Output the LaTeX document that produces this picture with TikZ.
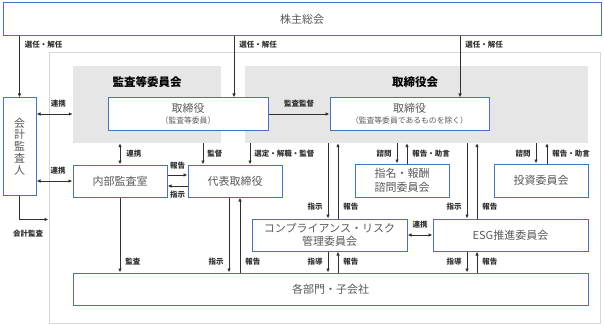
\documentclass[tikz,border=0pt]{standalone}
\usepackage{fontspec}
\setmainfont{Noto Sans CJK JP}
\usepackage{tikz}
\usetikzlibrary{arrows.meta,positioning}
\definecolor{Edge}{HTML}{4472C4}
\definecolor{Panel}{HTML}{E7E6E6}
\definecolor{Frame}{HTML}{D6D6D6}
\definecolor{Ink}{HTML}{595959}
\definecolor{Dark}{HTML}{303030}

\begin{document}
\begin{tikzpicture}[x=1pt,y=-1pt,
  box/.style={draw=Edge,fill=white,line width=1pt,inner sep=0pt,align=center,text=Ink,font=\fontsize{11}{13.5}\selectfont},
  panel/.style={fill=Panel,inner sep=0pt},
  outer/.style={draw=Frame,fill=white,line width=1pt,inner sep=0pt},
  title/.style={font=\fontsize{11.5}{13}\selectfont\bfseries,text=black},
  lbl/.style={font=\fontsize{7.5}{8}\selectfont\bfseries,text=Dark,inner sep=1pt},
  arrow/.style={-{Latex[length=4pt,width=3.5pt]},line width=0.9pt,draw=Dark},
  arrow2/.style={{Latex[length=4pt,width=3.5pt]}-{Latex[length=4pt,width=3.5pt]},line width=0.9pt,draw=Dark}
]
\useasboundingbox (0,0) rectangle (604,326);
\node[outer,minimum width=551pt,minimum height=270pt] (frame) at (324.5,188) {};
\node[panel,minimum width=148pt,minimum height=77pt] (audit) at (147,104.5) {};
\node[panel,minimum width=343pt,minimum height=77pt] (board) at (416.5,104.5) {};
\node[title] (auditT) at (147,82) {監査等委員会};
\node[title] (boardT) at (415,82) {取締役会};
\node[box,minimum width=598pt,minimum height=33pt] (agm) at (302,19.5) {株主総会};
\node[box,minimum width=33pt,minimum height=97pt,font=\fontsize{11}{11.8}\selectfont] (kaikei) at (19.5,146.5) {会\\計\\監\\査\\人};
\node[box,minimum width=160pt,minimum height=32pt] (dirA) at (188,114) {取締役\\[-3pt]{\fontsize{7.8}{9}\selectfont （監査等委員）}};
\node[box,minimum width=159pt,minimum height=32pt] (dirB) at (409.5,114) {取締役\\[-3pt]{\fontsize{7.8}{9}\selectfont （監査等委員であるものを除く）}};
\node[box,minimum width=94pt,minimum height=32pt] (naibu) at (120,181) {内部監査室};
\node[box,minimum width=94pt,minimum height=32pt] (daihyo) at (235,181) {代表取締役};
\node[box,minimum width=94pt,minimum height=33pt] (shimei) at (402,180.5) {指名・報酬\\諮問委員会};
\node[box,minimum width=94pt,minimum height=33pt] (toushi) at (541,180.5) {投資委員会};
\node[box,minimum width=155pt,minimum height=32pt] (comp) at (329.5,235) {コンプライアンス・リスク\\管理委員会};
\node[box,minimum width=155pt,minimum height=32pt] (esg) at (510.5,235) {ESG推進委員会};
\node[box,minimum width=515pt,minimum height=32pt] (bumon) at (330.5,289) {各部門・子会社};

% 株主総会から
\draw[arrow] (agm.south -| kaikei) -- (kaikei.north) node[lbl,pos=0.13,right=4pt] {選任・解任};
\draw[arrow] ([xshift=46pt]dirA.north |- agm.south) -- ([xshift=46pt]dirA.north) node[lbl,pos=0.13,right=4pt] {選任・解任};
\draw[arrow] ([xshift=50.5pt]dirB.north |- agm.south) -- ([xshift=50.5pt]dirB.north) node[lbl,pos=0.13,right=4pt] {選任・解任};

% 会計監査人
\draw[arrow2] (kaikei.east |- dirA) -- (audit.west |- dirA) node[lbl,pos=0.6,above=5pt] {連携};
\draw[arrow2] (kaikei.east |- naibu) -- (naibu.west) node[lbl,pos=0.6,above=5pt] {連携};
\draw[arrow] (kaikei.south) |- ([yshift=-24pt]kaikei.south -| frame.west) node[lbl,pos=0.65,below=9pt] {会計監査};

% 監査等委員会・取締役会
\draw[arrow2] (audit.south -| naibu) -- (naibu.north) node[lbl,midway,right=5pt] {連携};
\draw[arrow] ([xshift=-32pt]daihyo.north |- audit.south) -- ([xshift=-32pt]daihyo.north) node[lbl,midway,right=3pt] {監督};
\draw[arrow] ([xshift=15pt]daihyo.north |- board.south) -- ([xshift=15pt]daihyo.north) node[lbl,midway,right=3pt] {選定・解職・監督};
\draw[arrow] (dirA.east) -- (dirB.west) node[lbl,midway,above=5pt] {監査監督};

% 内部監査室・代表取締役
\draw[arrow] ([yshift=6pt]naibu.east) -- ([yshift=6pt]naibu.east -| daihyo.west) node[lbl,midway,above=4pt] {報告};
\draw[arrow] ([yshift=-5pt]daihyo.west) -- ([yshift=-5pt]daihyo.west -| naibu.east) node[lbl,midway,below=4pt] {指示};
\draw[arrow] (naibu.south) -- (naibu.south |- bumon.north) node[lbl,pos=0.86,right=4pt] {監査};
\draw[arrow] ([xshift=-6pt]daihyo.south) -- ([xshift=-6pt]daihyo.south |- bumon.north) node[lbl,pos=0.86,left=4pt] {指示};
\draw[arrow] ([xshift=5pt]daihyo.south |- bumon.north) -- ([xshift=5pt]daihyo.south) node[lbl,pos=0.14,right=4pt] {報告};

% 委員会
\draw[arrow] ([xshift=-1.5pt]comp.north |- board.south) -- ([xshift=-1.5pt]comp.north) node[lbl,pos=0.84,left=4pt] {指示};
\draw[arrow] ([xshift=8.5pt]comp.north) -- ([xshift=8.5pt]comp.north |- board.south) node[lbl,pos=0.16,right=4pt] {報告};
\draw[arrow] ([xshift=-1.5pt]comp.south) -- ([xshift=-1.5pt]comp.south |- bumon.north) node[lbl,midway,left=4pt] {指導};
\draw[arrow] ([xshift=8.5pt]comp.south |- bumon.north) -- ([xshift=8.5pt]comp.south) node[lbl,midway,right=4pt] {報告};
\draw[arrow] ([xshift=-5pt]shimei.north |- board.south) -- ([xshift=-5pt]shimei.north) node[lbl,midway,left=4pt] {諮問};
\draw[arrow] ([xshift=5pt]shimei.north) -- ([xshift=5pt]shimei.north |- board.south) node[lbl,midway,right=4pt] {報告・助言};
\draw[arrow] ([xshift=-43.5pt]esg.north |- board.south) -- ([xshift=-43.5pt]esg.north) node[lbl,pos=0.84,left=4pt] {指示};
\draw[arrow] ([xshift=-33.5pt]esg.north) -- ([xshift=-33.5pt]esg.north |- board.south) node[lbl,pos=0.16,right=4pt] {報告};
\draw[arrow] ([xshift=-43.5pt]esg.south) -- ([xshift=-43.5pt]esg.south |- bumon.north) node[lbl,midway,left=4pt] {指導};
\draw[arrow] ([xshift=-33.5pt]esg.south |- bumon.north) -- ([xshift=-33.5pt]esg.south) node[lbl,midway,right=4pt] {報告};
\draw[arrow] ([xshift=-5pt]toushi.north |- board.south) -- ([xshift=-5pt]toushi.north) node[lbl,midway,left=4pt] {諮問};
\draw[arrow] ([xshift=6pt]toushi.north) -- ([xshift=6pt]toushi.north |- board.south) node[lbl,midway,right=4pt] {報告・助言};
\draw[arrow2] (comp.east) -- (esg.west) node[lbl,midway,above=5pt] {連携};
\end{tikzpicture}
\end{document}
